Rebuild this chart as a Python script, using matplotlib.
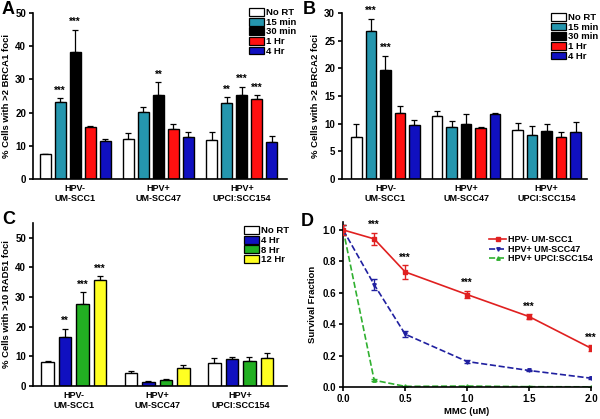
import numpy as np
import matplotlib
matplotlib.use('Agg')
import matplotlib.pyplot as plt
from matplotlib.patches import Patch
from matplotlib.lines import Line2D

plt.rcParams['font.family'] = ['Liberation Sans', 'DejaVu Sans']
plt.rcParams['font.weight'] = 'bold'
plt.rcParams['axes.labelweight'] = 'bold'

# group labels shared by the bar panels
groups = ['HPV-\nUM-SCC1', 'HPV+\nUM-SCC47', 'HPV+\nUPCI:SCC154']

# panel A: BRCA1
a_labels = ['No RT', '15 min', '30 min', '1 Hr', '4 Hr']
a_vals = [[7.4, 23.3, 38.2, 15.5, 11.5],
          [12.0, 20.2, 25.4, 14.9, 12.5],
          [11.8, 22.8, 25.2, 24.2, 11.0]]
a_err = [[0.1, 1.0, 6.8, 0.5, 0.5],
         [1.8, 1.4, 3.7, 1.5, 1.6],
         [2.4, 1.9, 2.6, 1.0, 1.8]]
a_stars = [['', '***', '***', '', ''],
           ['', '', '**', '', ''],
           ['', '**', '***', '***', '']]

# panel B: BRCA2
b_vals = [[7.5, 26.8, 19.7, 12.0, 9.8],
          [11.4, 9.3, 10.0, 9.2, 11.7],
          [8.9, 7.9, 8.6, 7.5, 8.4]]
b_err = [[2.4, 2.2, 2.6, 1.1, 0.8],
         [0.9, 1.1, 1.8, 0.1, 0.2],
         [1.2, 1.6, 1.4, 1.0, 1.8]]
b_stars = [['', '***', '***', '', ''],
           ['', '', '', '', ''],
           ['', '', '', '', '']]

# panel C: RAD51
c_labels = ['No RT', '4 Hr', '8 Hr', '12 Hr']
c_vals = [[8.0, 16.5, 27.8, 35.8],
          [4.3, 1.4, 2.1, 5.9],
          [7.7, 9.0, 8.5, 9.3]]
c_err = [[0.4, 2.8, 3.9, 1.2],
         [0.7, 0.3, 0.1, 1.1],
         [1.8, 0.7, 1.1, 1.8]]
c_stars = [['', '**', '***', '***'],
           ['', '', '', ''],
           ['', '', '', '']]

# panel D: MMC survival
mmc = [0.0, 0.25, 0.5, 1.0, 1.5, 2.0]
scc1 = [1.0, 0.943, 0.733, 0.589, 0.449, 0.248]
scc1_err = [0.03, 0.04, 0.045, 0.025, 0.017, 0.02]
scc47 = [1.0, 0.652, 0.337, 0.163, 0.106, 0.057]
scc47_err = [0.03, 0.035, 0.02, 0.01, 0.005, 0.005]
scc154 = [1.0, 0.044, 0.005, 0.007, 0.003, 0.002]
scc154_err = [0.03, 0.005, 0.003, 0.003, 0.002, 0.002]
d_stars = ['', '***', '***', '***', '***', '***']

teal = '#2596ae'
bar_a_colors = ['white', teal, 'black', '#ff1010', '#1010c0']
bar_c_colors = ['white', '#1010c0', '#22b022', '#ffff22']

fig = plt.figure(figsize=(6, 4.19), dpi=100)
axA = fig.add_axes([0.055, 0.573, 0.423, 0.396])
axB = fig.add_axes([0.57, 0.573, 0.408, 0.396])
axC = fig.add_axes([0.055, 0.079, 0.423, 0.389])
axD = fig.add_axes([0.572, 0.076, 0.413, 0.394])


def style(ax):
    ax.spines['top'].set_visible(False)
    ax.spines['right'].set_visible(False)
    ax.spines['left'].set_linewidth(1.2)
    ax.spines['bottom'].set_linewidth(1.2)
    ax.tick_params(axis='both', labelsize=7, width=1.2, length=3, direction='out', pad=2)


def bar_panel(ax, vals, errs, stars, labels, colors, pitch, width, ylim, yticks,
              ylabel, xlim, leg_anchor):
    style(ax)
    n = len(labels)
    offs = (np.arange(n) - (n - 1) / 2) * pitch
    top = ylim[1]
    for g in range(len(vals)):
        for i in range(n):
            x = g + offs[i]
            v = vals[g][i]
            e = errs[g][i]
            ax.bar(x, v, width=width, color=colors[i], edgecolor='black', linewidth=1.0, zorder=2)
            ax.errorbar(x, v, yerr=[[0], [e]], fmt='none', ecolor='black',
                        elinewidth=0.9, capsize=2.5, capthick=0.9, zorder=1)
            if stars[g][i]:
                ax.text(x, v + e + top * 0.015, stars[g][i], ha='center', va='bottom',
                        fontsize=7, fontweight='bold')
    ax.set_xlim(*xlim)
    ax.set_ylim(*ylim)
    ax.set_yticks(yticks)
    ax.set_xticks(range(len(groups)))
    ax.set_xticklabels(groups, fontsize=6.5, fontweight='bold', linespacing=1.05)
    ax.tick_params(axis='x', length=0, pad=4)
    ax.set_ylabel(ylabel, fontsize=6.8, fontweight='bold', labelpad=3)
    handles = [Patch(facecolor=c, edgecolor='black', linewidth=0.9) for c in colors]
    ax.legend(handles, labels, loc='upper left', bbox_to_anchor=leg_anchor, frameon=False,
              fontsize=6.8, handlelength=1.6, handleheight=0.9, handletextpad=0.2,
              labelspacing=0.05, borderpad=0, borderaxespad=0)


bar_panel(axA, a_vals, a_err, a_stars, a_labels, bar_a_colors, 0.18, 0.13,
          (0, 50), range(0, 51, 10), '% Cells with >2 BRCA1 foci', (-0.505, 2.54),
          (0.85, 1.03))
bar_panel(axB, b_vals, b_err, b_stars, a_labels, bar_a_colors, 0.18, 0.13,
          (0, 30), range(0, 31, 5), '% Cells with >2 BRCA2 foci', (-0.54, 2.5),
          (0.853, 1.0))
bar_panel(axC, c_vals, c_err, c_stars, c_labels, bar_c_colors, 0.21, 0.15,
          (0, 55), range(0, 51, 10), '% Cells with >10 RAD51 foci', (-0.49, 2.555),
          (0.83, 0.98))

# panel D
style(axD)
axD.errorbar(mmc, scc1, yerr=scc1_err, color='#e02020', ls='-', lw=1.2, marker='s',
             ms=2.5, capsize=2.5, elinewidth=1.0, capthick=1.0, label='HPV- UM-SCC1', zorder=3)
axD.errorbar(mmc, scc47, yerr=scc47_err, color='#2020a0', ls='--', lw=1.2, marker='v',
             ms=2.5, capsize=2.5, elinewidth=1.0, capthick=1.0, label='HPV+ UM-SCC47', zorder=2)
axD.errorbar(mmc, scc154, yerr=scc154_err, color='#30b030', ls='--', lw=1.2, marker='^',
             ms=2.5, capsize=2.5, elinewidth=1.0, capthick=1.0, label='HPV+ UPCI:SCC154', zorder=1)
for x, y, e, s in zip(mmc, scc1, scc1_err, d_stars):
    if s:
        axD.text(x, y + e + 0.015, s, ha='center', va='bottom', fontsize=7, fontweight='bold')
axD.set_xlim(0, 2.0)
axD.set_ylim(0, 1.05)
axD.set_xticks([0.0, 0.5, 1.0, 1.5, 2.0])
axD.set_xticklabels(['0.0', '0.5', '1.0', '1.5', '2.0'])
axD.set_yticks([0.0, 0.2, 0.4, 0.6, 0.8, 1.0])
axD.set_yticklabels(['0.0', '0.2', '0.4', '0.6', '0.8', '1.0'])
axD.set_xlabel('MMC (uM)', fontsize=6.8, fontweight='bold', labelpad=2)
axD.set_ylabel('Survival Fraction', fontsize=6.8, fontweight='bold')
leg_handles = [Line2D([], [], color='#e02020', ls='-', lw=1.2, marker='s', ms=2.5),
               Line2D([], [], color='#2020a0', ls='--', lw=1.2, marker='v', ms=2.5),
               Line2D([], [], color='#30b030', ls='--', lw=1.2, marker='^', ms=2.5)]
axD.legend(leg_handles, ['HPV- UM-SCC1', 'HPV+ UM-SCC47', 'HPV+ UPCI:SCC154'],
           loc='upper left', bbox_to_anchor=(0.59, 0.92), frameon=False, fontsize=6.5,
           handlelength=1.8, handletextpad=0.3, labelspacing=0.05, borderpad=0,
           borderaxespad=0)

# panel letters
for x, y, letter in [(0.003, 0.998, 'A'), (0.505, 0.998, 'B'),
                     (0.003, 0.497, 'C'), (0.502, 0.492, 'D')]:
    fig.text(x, y, letter, fontsize=13, fontweight='bold', ha='left', va='top')

fig.savefig('out.png', dpi=100)
